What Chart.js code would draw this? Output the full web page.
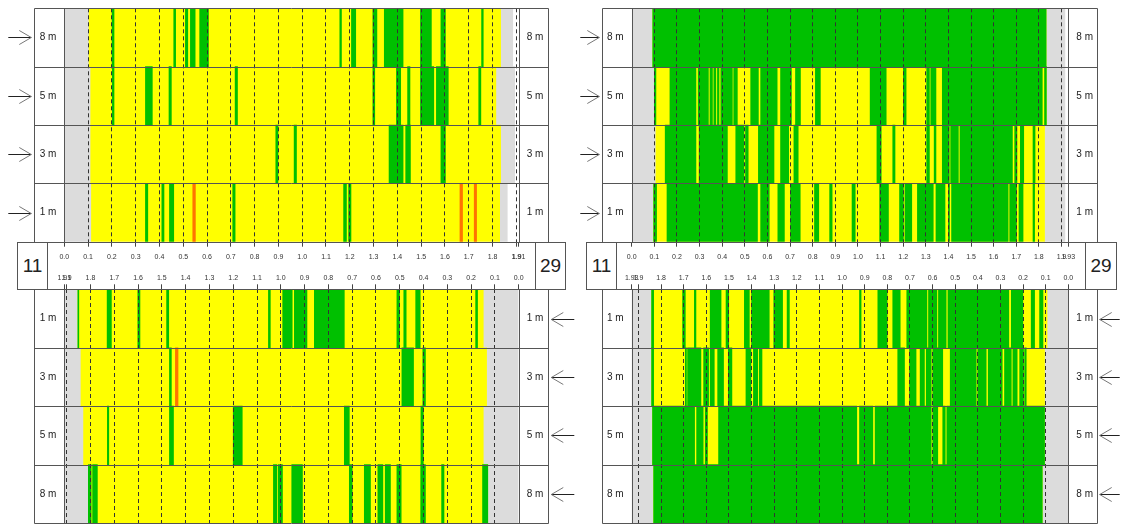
<!DOCTYPE html>
<html lang="en">
<head>
<meta charset="UTF-8">
<title>Strip map 11 / 29</title>
<script src="https://cdn.jsdelivr.net/npm/chart.js"></script>
<style>
  body { margin: 0; background: #fff; width: 1123px; height: 524px; overflow: hidden; position: relative;
         font-family: 'Liberation Sans Narrow', 'Liberation Sans', Arial, sans-serif; }
  canvas { position: absolute; }
  .band { position: absolute; box-sizing: border-box; border: 1px solid #555; }
  .cell { position: absolute; top: 0; bottom: 0; display: flex; align-items: center; justify-content: center;
          font-size: 19px; color: #222; }
</style>
</head>
<body>
<div class="band" style="left:17px;top:242px;width:549px;height:48px;">
  <div class="cell" style="left:0;width:29px;border-right:1px solid #555;">11</div>
  <div class="cell" style="right:0;width:29px;border-left:1px solid #555;">29</div>
</div>
<div class="band" style="left:586px;top:242px;width:531px;height:48px;">
  <div class="cell" style="left:0;width:29px;border-right:1px solid #555;">11</div>
  <div class="cell" style="right:0;width:30px;border-left:1px solid #555;">29</div>
</div>

<script>
// rows, top blocks read downwards, bottom blocks too
const top_rows = ['8 m', '5 m', '3 m', '1 m'];
const bottom_rows = ['1 m', '3 m', '5 m', '8 m'];

const left_max = 1.91;
const right_max = 1.93;
const left_ticks = [0.0, 0.1, 0.2, 0.3, 0.4, 0.5, 0.6, 0.7, 0.8, 0.9, 1.0, 1.1, 1.2, 1.3, 1.4, 1.5, 1.6, 1.7, 1.8, 1.9, 1.91];
const right_ticks = [0.0, 0.1, 0.2, 0.3, 0.4, 0.5, 0.6, 0.7, 0.8, 0.9, 1.0, 1.1, 1.2, 1.3, 1.4, 1.5, 1.6, 1.7, 1.8, 1.9, 1.93];

// ---- panel 11, top (rows 8,5,3,1 m) ----
const lt_yellow = [[0.104, 1.834], [0.111, 1.814], [0.111, 1.834], [0.114, 1.830]];
const lt_grey_lo = [[0, 0.104], [0, 0.111], [0, 0.111], [0, 0.114]];
const lt_grey_hi = [[1.834, 1.885], [1.814, 1.893], [1.834, 1.893], [1.830, 1.862]];
const lt_8m_green = [[0.201, 0.209], [0.460, 0.468], [0.509, 0.519], [0.530, 0.550], [0.569, 0.606],
  [1.158, 1.165], [1.207, 1.225], [1.297, 1.314], [1.345, 1.424], [1.497, 1.543], [1.583, 1.602], [1.754, 1.761]];
const lt_5m_green = [[0.202, 0.209], [0.341, 0.370], [0.440, 0.450], [0.718, 0.728], [1.297, 1.305],
  [1.396, 1.414], [1.443, 1.453], [1.497, 1.553], [1.564, 1.614], [1.742, 1.751]];
const lt_3m_green = [[0.889, 0.898], [0.966, 0.976], [1.365, 1.424], [1.435, 1.455], [1.583, 1.602]];
const lt_1m_green = [[0.341, 0.351], [0.410, 0.419], [0.442, 0.460], [0.708, 0.718], [1.174, 1.186], [1.195, 1.205]];
const lt_1m_orange = [[0.540, 0.551], [1.663, 1.674], [1.723, 1.733]];

// ---- panel 11, bottom (rows 1,3,5,8 m, axis reversed) ----
const lb_yellow = [[0.149, 1.853], [0.135, 1.840], [0.149, 1.829], [0.130, 1.809]];
const lb_grey_lo = [[0, 0.149], [0, 0.135], [0, 0.149], [0, 0.130]];
const lb_grey_hi = [[1.853, 1.91], [1.840, 1.91], [1.829, 1.91], [1.809, 1.91]];
const lb_1m_green = [[1.849, 1.853], [1.712, 1.730], [1.592, 1.601], [1.471, 1.480], [1.044, 1.052], [0.952, 0.992],
  [0.890, 0.943], [0.733, 0.859], [0.501, 0.512], [0.473, 0.483], [0.414, 0.433], [0.173, 0.181]];
const lb_3m_green = [[1.460, 1.468], [0.442, 0.491], [0.392, 0.403]];
const lb_3m_orange = [[1.432, 1.443]];
const lb_5m_green = [[1.723, 1.729], [1.451, 1.468], [1.162, 1.200], [0.712, 0.733], [0.401, 0.411]];
const lb_8m_green = [[1.797, 1.809], [1.771, 1.791], [1.017, 1.031], [0.993, 1.011], [0.909, 0.954], [0.700, 0.712],
  [0.623, 0.649], [0.571, 0.592], [0.539, 0.561], [0.494, 0.512], [0.392, 0.412], [0.314, 0.324], [0.130, 0.152]];

// ---- panel 29, top ----
const rt_yellow = [[0.093, 1.832], [0.104, 1.833], [0.107, 1.825], [0.097, 1.825]];
const rt_grey_lo = [[0, 0.093], [0, 0.104], [0, 0.107], [0, 0.097]];
const rt_grey_hi = [[1.832, 1.915], [1.833, 1.915], [1.825, 1.915], [1.825, 1.915]];
const rt_8m_green = [[0.093, 1.832]];
const rt_5m_green = [[0.100, 0.107], [0.169, 0.284], [0.294, 0.339], [0.346, 0.357], [0.363, 0.372], [0.379, 0.386],
  [0.394, 0.445], [0.451, 0.467], [0.526, 0.560], [0.570, 0.643], [0.658, 0.706], [0.724, 0.746], [0.812, 0.834],
  [1.054, 1.125], [1.201, 1.213], [1.304, 1.316], [1.322, 1.345], [1.373, 1.815], [1.825, 1.833]];
const rt_3m_green = [[0.148, 0.284], [0.298, 0.423], [0.460, 0.496], [0.503, 0.515], [0.560, 0.629], [0.658, 0.694],
  [0.717, 0.736], [1.084, 1.103], [1.154, 1.164], [1.304, 1.316], [1.337, 1.345], [1.373, 1.404], [1.410, 1.444],
  [1.451, 1.683], [1.693, 1.703], [1.718, 1.733], [1.774, 1.783]];
const rt_1m_green = [[0.097, 0.110], [0.156, 0.556], [0.570, 0.608], [0.646, 0.675], [0.702, 0.745], [0.808, 0.827],
  [0.875, 0.886], [0.974, 0.988], [1.096, 1.135], [1.184, 1.201], [1.208, 1.238], [1.263, 1.333], [1.345, 1.385],
  [1.400, 1.405], [1.414, 1.664], [1.671, 1.701], [1.712, 1.730], [1.774, 1.781]];

// ---- panel 29, bottom ----
const rb_yellow = [[0.094, 1.842], [0.105, 1.842], [0.105, 1.838], [0.115, 1.833]];
const rb_grey_lo = [[0, 0.094], [0, 0.105], [0, 0.105], [0, 0.115]];
const rb_grey_hi = [[1.842, 1.93], [1.842, 1.93], [1.838, 1.93], [1.833, 1.93]];
const rb_1m_green = [[1.833, 1.842], [1.693, 1.705], [1.646, 1.653], [1.535, 1.583], [1.501, 1.513], [1.410, 1.432],
  [1.322, 1.400], [1.263, 1.302], [1.233, 1.243], [0.916, 0.923], [0.801, 0.842], [0.743, 0.776], [0.625, 0.714],
  [0.581, 0.618], [0.540, 0.574], [0.263, 0.532], [0.201, 0.252], [0.149, 0.164], [0.112, 0.127]];
const rb_3m_green = [[1.833, 1.842], [1.688, 1.693], [1.624, 1.683], [1.590, 1.612], [1.565, 1.583], [1.524, 1.550],
  [1.487, 1.503], [1.403, 1.425], [1.373, 1.392], [1.354, 1.366], [0.724, 0.754], [0.673, 0.702], [0.636, 0.655],
  [0.606, 0.628], [0.555, 0.599], [0.407, 0.522], [0.363, 0.400], [0.292, 0.354], [0.252, 0.282], [0.226, 0.245],
  [0.198, 0.215], [0.186, 0.193]];
const rb_5m_green = [[1.652, 1.838], [1.614, 1.643], [1.595, 1.605], [0.935, 1.546], [0.864, 0.923], [0.606, 0.854],
  [0.577, 0.599], [0.544, 0.555], [0.105, 0.537]];
const rb_8m_green = [[0.115, 1.833]];

const FONT = "'Liberation Sans Narrow', 'Liberation Sans', Arial, sans-serif";
const YELLOW = '#ffff00', GREEN = '#00c000', ORANGE = '#ff7400', GREY = '#dcdcdc';

// where each block sits on the page (px)
const geo_top = { top: 0, height: 272, axisPos: 'bottom', axisH: 30.3, tickPad: 6, padTop: 8.3, padBottom: 0, side: 'left' };
const geo_bottom = { top: 260, height: 264, axisPos: 'top', axisH: 29.3, tickPad: 2, padTop: 0, padBottom: 1, side: 'right' };
const geo_left = { left: 0, width: 580, padLeft: 34.3, padRight: 31.7, yw: 30, y2w: 29.6 };
const geo_right = { left: 575, width: 548, padLeft: 27.3, padRight: 26.3, yw: 29.4, y2w: 28.4 };

const blocks = [
  { rows: top_rows, max: left_max, ticks: left_ticks, reverse: false, v: geo_top, h: geo_left, arrowLen: 23,
    yellow: lt_yellow, greyLo: lt_grey_lo, greyHi: lt_grey_hi,
    green: [lt_8m_green, lt_5m_green, lt_3m_green, lt_1m_green], orange: [[], [], [], lt_1m_orange] },
  { rows: bottom_rows, max: left_max, ticks: left_ticks, reverse: true, v: geo_bottom, h: geo_left, arrowLen: 23,
    yellow: lb_yellow, greyLo: lb_grey_lo, greyHi: lb_grey_hi,
    green: [lb_1m_green, lb_3m_green, lb_5m_green, lb_8m_green], orange: [[], lb_3m_orange, [], []] },
  { rows: top_rows, max: right_max, ticks: right_ticks, reverse: false, v: geo_top, h: geo_right, arrowLen: 19,
    yellow: rt_yellow, greyLo: rt_grey_lo, greyHi: rt_grey_hi,
    green: [rt_8m_green, rt_5m_green, rt_3m_green, rt_1m_green], orange: [[], [], [], []] },
  { rows: bottom_rows, max: right_max, ticks: right_ticks, reverse: true, v: geo_bottom, h: geo_right, arrowLen: 20,
    yellow: rb_yellow, greyLo: rb_grey_lo, greyHi: rb_grey_hi,
    green: [rb_1m_green, rb_3m_green, rb_5m_green, rb_8m_green], orange: [[], [], [], []] }
];

// row frames, label boxes and the arrows beside each row
const frames = {
  id: 'frames',
  afterDraw(chart, args, opts) {
    const { ctx, chartArea: ca, scales } = chart;
    const yl = scales.y, yr = scales.y2;
    const px = v => Math.round(v) + 0.5;
    ctx.save();
    ctx.strokeStyle = '#555';
    ctx.lineWidth = 1;
    ctx.beginPath();
    ctx.rect(px(yl.left), px(ca.top), Math.round(yr.right) - Math.round(yl.left), Math.round(ca.bottom) - Math.round(ca.top));
    ctx.moveTo(px(ca.left), px(ca.top)); ctx.lineTo(px(ca.left), px(ca.bottom));
    ctx.moveTo(px(ca.right), px(ca.top)); ctx.lineTo(px(ca.right), px(ca.bottom));
    for (let i = 1; i < yl.ticks.length; i++) {
      const y = px((yl.getPixelForTick(i - 1) + yl.getPixelForTick(i)) / 2);
      ctx.moveTo(px(yl.left), y); ctx.lineTo(px(yr.right), y);
    }
    ctx.stroke();

    yl.ticks.forEach((t, i) => {
      const y = px(yl.getPixelForTick(i));
      const tip = opts.side === 'left' ? yl.left - 3 : yr.right + 3;
      const tail = opts.side === 'left' ? tip - opts.len : tip + opts.len;
      const dir = Math.sign(tip - tail);
      ctx.strokeStyle = '#222';
      ctx.beginPath(); ctx.moveTo(tail, y); ctx.lineTo(tip, y); ctx.stroke();
      ctx.strokeStyle = '#777';
      ctx.beginPath();
      ctx.moveTo(tip - dir * 12, y - 7); ctx.lineTo(tip, y); ctx.lineTo(tip - dir * 12, y + 7);
      ctx.stroke();
    });
    ctx.restore();
  }
};

Chart.defaults.font.family = FONT;

function segData(rows, perRow) {
  const out = [];
  perRow.forEach((segs, i) => segs.forEach(s => out.push({ y: rows[i], x: s })));
  return out;
}

// label overhang must not push the plot area around
function noOverhang(s) {
  s.paddingLeft = 0; s.paddingRight = 0; s.paddingTop = 0; s.paddingBottom = 0;
}

blocks.forEach(b => {
  const cv = document.createElement('canvas');
  cv.width = b.h.width;
  cv.height = b.v.height;
  cv.style.left = b.h.left + 'px';
  cv.style.top = b.v.top + 'px';
  document.body.appendChild(cv);

  const bar = (label, data, color, order) => ({
    label, data, backgroundColor: color, borderWidth: 0, order,
    grouped: false, barPercentage: 1, categoryPercentage: 1
  });

  new Chart(cv, {
    type: 'bar',
    data: {
      labels: b.rows,
      datasets: [
        bar('other', segData(b.rows, b.orange), ORANGE, 0),
        bar('green', segData(b.rows, b.green), GREEN, 1),
        bar('yellow', segData(b.rows, b.yellow.map(s => [s])), YELLOW, 2),
        bar('no data', segData(b.rows, b.greyLo.map((s, i) => [s, b.greyHi[i]])), GREY, 3)
      ]
    },
    options: {
      indexAxis: 'y',
      responsive: false,
      animation: false,
      layout: { padding: { left: b.h.padLeft, right: b.h.padRight, top: b.v.padTop, bottom: b.v.padBottom } },
      plugins: {
        legend: { display: false },
        tooltip: { enabled: false },
        frames: { side: b.v.side, len: b.arrowLen }
      },
      scales: {
        x: {
          type: 'linear', min: 0, max: b.max, position: b.v.axisPos, reverse: b.reverse,
          afterBuildTicks: s => { s.ticks = b.ticks.map(v => ({ value: v })); },
          afterFit: s => { s.height = b.v.axisH; noOverhang(s); },
          grid: {
            z: 1, lineWidth: 1, tickLength: 5, tickColor: '#444', tickBorderDash: [],
            color: c => (c.tick && (c.tick.value === 0 || c.tick.value === b.max)) ? 'rgba(0,0,0,0)' : '#333'
          },
          border: { display: false, dash: [4, 3] },
          ticks: {
            autoSkip: false, maxRotation: 0, minRotation: 0, padding: b.v.tickPad,
            font: { size: 7 }, color: '#333',
            callback: v => (v === b.max ? String(v) : v.toFixed(1))
          }
        },
        y: {
          type: 'category', position: 'left', offset: true,
          afterFit: s => { s.width = b.h.yw; noOverhang(s); },
          grid: { display: false, drawTicks: false }, border: { display: false },
          ticks: { crossAlign: 'center', padding: 8, font: { size: 10 }, color: '#222' }
        },
        y2: {
          type: 'category', position: 'right', offset: true,
          afterFit: s => { s.width = b.h.y2w; noOverhang(s); },
          grid: { display: false, drawTicks: false }, border: { display: false },
          ticks: { crossAlign: 'center', padding: 8, font: { size: 10 }, color: '#222' }
        }
      }
    },
    plugins: [frames]
  });
});
</script>
</body>
</html>
